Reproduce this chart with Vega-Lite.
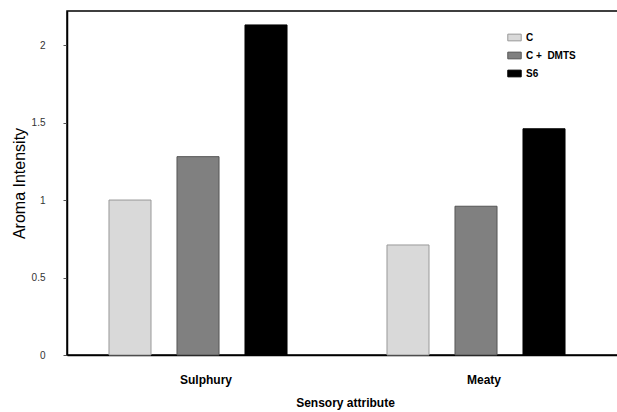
{
  "$schema": "https://vega.github.io/schema/vega-lite/v6.json",
  "autosize": "none",
  "width": 556,
  "height": 344,
  "padding": {"left": 67, "top": 11, "right": 0, "bottom": 57},
  "background": "white",
  "config": {
    "view": {"stroke": "black", "strokeWidth": 1.5},
    "font": "Liberation Sans"
  },
  "data": {
    "values": [
      {"attribute": "Sulphury", "treatment": "C", "intensity": 1.0},
      {"attribute": "Sulphury", "treatment": "C +\u00a0 DMTS", "intensity": 1.28},
      {"attribute": "Sulphury", "treatment": "S6", "intensity": 2.13},
      {"attribute": "Meaty", "treatment": "C", "intensity": 0.71},
      {"attribute": "Meaty", "treatment": "C +\u00a0 DMTS", "intensity": 0.96},
      {"attribute": "Meaty", "treatment": "S6", "intensity": 1.46}
    ]
  },
  "mark": {"type": "bar", "strokeWidth": 1},
  "encoding": {
    "x": {
      "field": "attribute",
      "type": "nominal",
      "sort": ["Sulphury", "Meaty"],
      "scale": {"paddingInner": 0, "paddingOuter": 0},
      "axis": {
        "title": "Sensory attribute",
        "labelAngle": 0,
        "labelFontWeight": "bold",
        "labelFontSize": 12,
        "labelColor": "black",
        "labelPadding": 19,
        "titleFontWeight": "bold",
        "titleFontSize": 12,
        "titleColor": "black",
        "titlePadding": 12,
        "ticks": false,
        "domainColor": "black",
        "domainWidth": 1.5
      }
    },
    "xOffset": {
      "field": "treatment",
      "type": "nominal",
      "sort": ["C", "C +\u00a0 DMTS", "S6"],
      "scale": {"paddingInner": 0.382, "paddingOuter": 0.735, "align": 0.42}
    },
    "y": {
      "field": "intensity",
      "type": "quantitative",
      "scale": {"domain": [0, 2.22], "nice": false},
      "axis": {
        "title": "Aroma Intensity",
        "values": [0, 0.5, 1, 1.5, 2],
        "format": "~g",
        "grid": false,
        "labelFontSize": 10,
        "labelColor": "#333",
        "labelPadding": 18,
        "tickColor": "#555",
        "tickSize": 4,
        "titleFontSize": 16,
        "titleFontWeight": "normal",
        "titleColor": "black",
        "titlePadding": 4,
        "domainColor": "black",
        "domainWidth": 1.5
      }
    },
    "color": {
      "field": "treatment",
      "type": "nominal",
      "sort": ["C", "C +\u00a0 DMTS", "S6"],
      "scale": {"domain": ["C", "C +\u00a0 DMTS", "S6"], "range": ["#d9d9d9", "#808080", "#000000"]},
      "legend": {
        "title": null,
        "orient": "none",
        "legendX": 440,
        "legendY": 19,
        "symbolType": "M-1,-0.5H1V0.5H-1Z",
        "symbolSize": 180,
        "symbolStrokeColor": "#777",
        "symbolStrokeWidth": 1,
        "labelFontSize": 10,
        "labelFontWeight": "bold",
        "labelColor": "black",
        "rowPadding": 5
      }
    },
    "stroke": {
      "field": "treatment",
      "type": "nominal",
      "scale": {"domain": ["C", "C +\u00a0 DMTS", "S6"], "range": ["#999999", "#555555", "#000000"]},
      "legend": null
    }
  }
}
